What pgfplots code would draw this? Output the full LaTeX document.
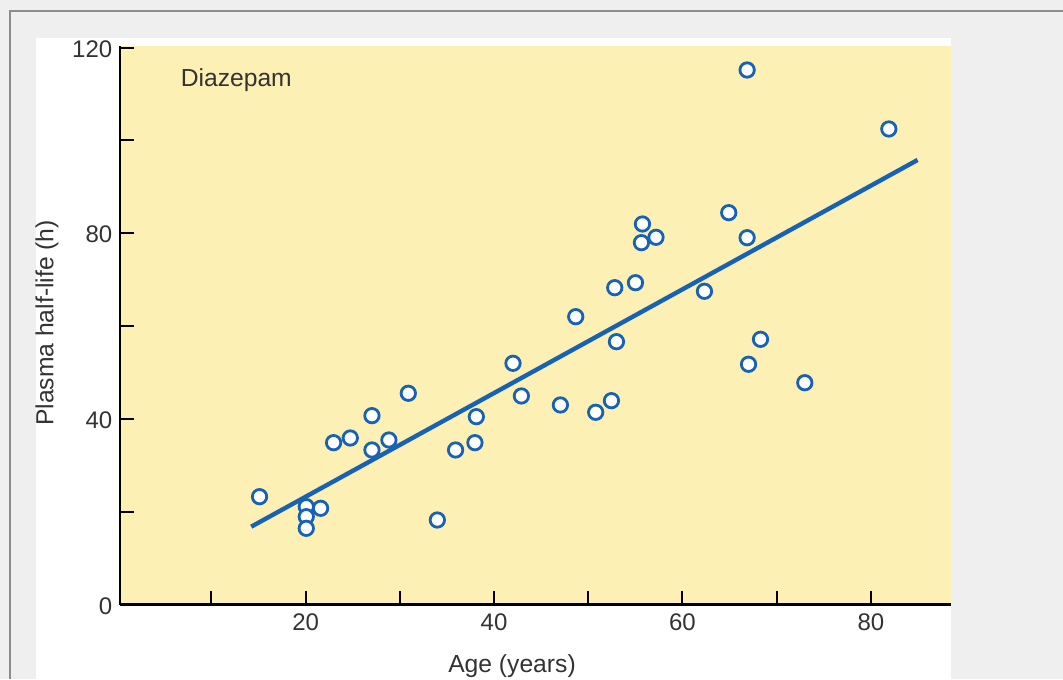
\documentclass[border=0pt]{standalone}
\usepackage{pgfplots}
\pgfplotsset{compat=1.18}
\usepackage{fontspec}
\setmainfont{Liberation Sans}
\definecolor{bgGray}{RGB}{239,239,239}
\definecolor{frameGray}{RGB}{140,140,140}
\definecolor{plotYellow}{RGB}{253,240,180}
\definecolor{dotBlue}{RGB}{24,98,182}
\definecolor{txtGray}{RGB}{51,51,51}
\newcommand{\lbl}{\fontsize{18.5}{22}\selectfont}
\newcommand{\tkl}{\fontsize{18}{21}\selectfont}
\begin{document}
\begin{tikzpicture}
\begin{scope}[x=0.75pt,y=-0.75pt]
\fill[bgGray] (0,0) rectangle (1063,679);
\useasboundingbox (0,0) rectangle (1063,679);
\draw[frameGray, line width=1.1pt] (10,679) -- (10,11) -- (1063,11);
\fill[white] (36,38) rectangle (951,679);
\end{scope}
\begin{axis}[
  at={(90pt,-453.5pt)}, anchor=south west,
  scale only axis, width=623.25pt, height=419.25pt,
  xmin=0.3, xmax=88.5, ymin=0, ymax=120.4,
  axis lines=left,
  axis line style={-, black, line width=1.8pt},
  axis background/.style={fill=plotYellow},
  tick align=inside,
  major tick length=10.5pt,
  tick style={black, line width=1.5pt},
  xtick={10,20,...,80},
  xticklabels={,20,,40,,60,,80},
  ytick={0,20,...,120},
  yticklabels={0,,40,,80,,120},
  /pgf/number format/assume math mode=true,
  ticklabel style={font=\tkl, text=txtGray},
  xticklabel style={yshift=-3pt},
  yticklabel style={xshift=-2.3pt, yshift=-1pt},
  clip=false,
]
\addplot[dotBlue, line width=3.3pt] coordinates {(14.23,16.80) (84.95,95.78)};
\addplot[only marks, mark=*, mark size=5.4pt,
  mark options={draw=dotBlue, fill=white, line width=2.1pt}] coordinates {
(15.11,23.26) (20.07,21.11) (20.07,18.95) (20.07,16.45) (21.59,20.76)
(22.97,34.89) (24.74,35.90) (27.04,40.71) (27.04,33.32) (28.84,35.47)
(30.90,45.53) (33.98,18.24) (35.92,33.32) (38.12,40.49) (37.97,34.89)
(42.01,51.99) (42.90,44.95) (47.04,43.01) (48.67,62.03) (50.79,41.44)
(52.46,43.94) (52.81,68.27) (52.99,56.64) (55.01,69.35) (55.75,81.99)
(55.64,77.97) (57.19,79.13) (62.33,67.50) (64.91,84.43) (66.86,115.16)
(66.86,79.04) (67.01,51.78) (68.28,57.16) (72.98,47.81) (81.90,102.46)
};
\end{axis}
\begin{scope}[x=0.75pt,y=-0.75pt]
\node[font=\lbl, text=txtGray, anchor=base, inner sep=0pt] at (512,672) {Age (years)};
\node[font=\lbl, text=txtGray, rotate=90] at (47,323) {Plasma half-life (h)};
\node[font=\lbl, text=txtGray, anchor=base west, inner sep=0pt] at (180.5,86.5) {Diazepam};
\end{scope}
\end{tikzpicture}
\end{document}
